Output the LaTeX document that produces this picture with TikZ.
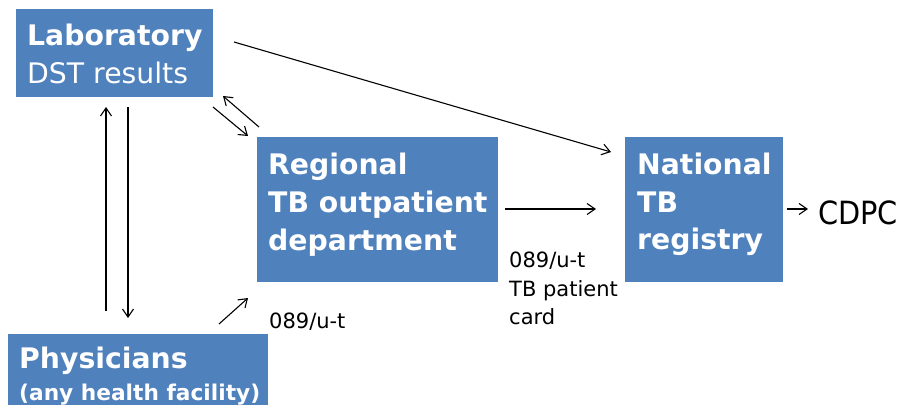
\documentclass[tikz,border=0pt]{standalone}
\usepackage{fontspec}
\setmainfont{DejaVu Sans}
\newfontfamily\condfont{DejaVu Sans Condensed}
\usetikzlibrary{arrows.meta}
\definecolor{boxblue}{HTML}{4F81BD}
\tikzset{
  box/.style={fill=boxblue, draw=none, anchor=north west, inner sep=0pt},
  boxtext/.style={text=white, anchor=base west, inner sep=0pt, font=\fontsize{28.3}{28.3}\selectfont\bfseries},
  plain/.style={text=black, anchor=base west, inner sep=0pt, font=\fontsize{21}{21}\selectfont},
  conn/.style={-{Straight Barb[length=8pt,width=11pt,line width=1.1pt]}, line width=1.1pt},
}
\begin{document}
\begin{tikzpicture}[x=1pt,y=-1pt]
\useasboundingbox (0,0) rectangle (900,405);

% boxes
\node[box, minimum width=197pt, minimum height=88pt] (lab) at (16,9) {};
\node[box, minimum width=241pt, minimum height=145pt] (reg) at (257,137) {};
\node[box, minimum width=158pt, minimum height=145pt] (nat) at (625,137) {};
\node[box, minimum width=260pt, minimum height=71pt] (phy) at (8,334) {};

% box texts
\node[boxtext] (labA) at (27,45) {Laboratory};
\node[boxtext, font=\fontsize{28.3}{28.3}\selectfont] (labB) at (27,83) {DST results};
\node[boxtext] (regA) at (268,174) {Regional};
\node[boxtext] (regB) at (268,212) {TB outpatient};
\node[boxtext] (regC) at (268,250) {department};
\node[boxtext] (natA) at (637,174) {National};
\node[boxtext] (natB) at (637,212) {TB};
\node[boxtext] (natC) at (637,249) {registry};
\node[boxtext] (phyA) at (19,368) {Physicians};
\node[boxtext, font=\fontsize{21.7}{21.7}\selectfont\bfseries] (phyB) at (19,400) {(any health facility)};

% labels
\node[plain] (formA) at (269,328) {089/u-t};
\node[plain] (formB) at (509,267) {089/u-t};
\node[plain] (formC) at (509,296) {TB patient};
\node[plain] (formD) at (509,324) {card};
\node[plain, font=\fontsize{32}{32}\selectfont\condfont] (cdpc) at (818,224) {CDPC};

% connector end points
\coordinate (p1) at (234,42);   \coordinate (q1) at (611,152);
\coordinate (p2) at (505,209);  \coordinate (q2) at (596,209);
\coordinate (p3) at (213,107);  \coordinate (q3) at (248,136);
\coordinate (p4) at (259,127);  \coordinate (q4) at (223,96);
\coordinate (p5) at (106,311);  \coordinate (q5) at (106,107);
\coordinate (p6) at (128,107);  \coordinate (q6) at (128,318);
\coordinate (p7) at (219,324);  \coordinate (q7) at (248,298);
\coordinate (p8) at (787,209);  \coordinate (q8) at (808,209);

\draw[conn] (p1) -- (q1);
\draw[conn] (p2) -- (q2);
\draw[conn] (p3) -- (q3);
\draw[conn] (p4) -- (q4);
\draw[conn] (p5) -- (q5);
\draw[conn] (p6) -- (q6);
\draw[conn] (p7) -- (q7);
\draw[conn] (p8) -- (q8);
\end{tikzpicture}
\end{document}
